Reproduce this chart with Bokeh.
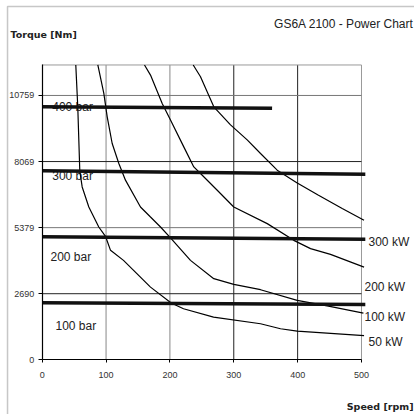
from bokeh.plotting import figure
from bokeh.models import Label, FixedTicker, Range1d, BoxAnnotation
from bokeh.embed import file_html
from bokeh.resources import INLINE

# ---- data ----
x_ticks = [0, 100, 200, 300, 400, 500]
y_ticks = [0, 2690, 5379, 8069, 10759]
x_max = 500
y_max = 12000

rpm_50 = [52.6, 55.7, 58.9, 62.6, 73.0, 88.6, 99.1, 107.0, 127.3, 169.6, 202.0, 221.3, 268.3, 341.9, 373.2, 399.3, 504]
tq_50 = [12000, 10296, 7675, 7035, 6220, 5405, 5026, 4455, 4047, 2959, 2315, 2078, 1736, 1467, 1264, 1166, 985]

rpm_100 = [87.1, 96.5, 101.8, 109.6, 120.0, 130.4, 153.9, 169.6, 185.3, 200.9, 232.2, 268.7, 300.0, 341.9, 399.3, 446.3, 503]
tq_100 = [12000, 10842, 9889, 8804, 7989, 7312, 6220, 5812, 5405, 4965, 4047, 3302, 3069, 2853, 2417, 2193, 1900]

rpm_200 = [160.2, 169.6, 187.9, 200.9, 221.7, 237.4, 247.9, 274.1, 300.0, 352.4, 394.0, 420.2, 451.5, 504]
tq_200 = [12000, 11588, 10435, 9758, 8666, 7851, 7581, 6901, 6220, 5543, 4862, 4524, 4292, 3774]

rpm_300 = [236.5, 247.9, 268.7, 294.9, 321.0, 341.9, 368.0, 398.7, 432.7, 469.8, 504]
tq_300 = [12000, 11519, 10296, 9562, 8951, 8397, 7718, 7206, 6697, 6155, 5677]

bar_names = ["400 bar", "300 bar", "200 bar", "100 bar"]
bar_rpm = [[0, 360], [0, 506], [0, 506], [0, 506]]
bar_tq = [[10296, 10240], [7696, 7553], [5013, 4903], [2323, 2254]]

kw_names = ["300 kW", "200 kW", "100 kW", "50 kW"]

FONT = "Liberation Sans"

# ---- figure: the frame covers the whole canvas, axes sit at the data origin ----
p = figure(width=414, height=414,
           x_range=Range1d(-65.3, 583.0), y_range=Range1d(-2226, 14624),
           output_backend="svg", toolbar_location=None,
           min_border=0, min_border_left=0, min_border_right=0,
           min_border_top=0, min_border_bottom=0,
           background_fill_color="white", border_fill_color="white")

p.xgrid.grid_line_color = None
p.ygrid.grid_line_color = None
p.outline_line_color = None

for ax, ticks in ((p.xaxis, x_ticks), (p.yaxis, y_ticks)):
    ax.ticker = FixedTicker(ticks=ticks)
    ax.fixed_location = 0
    ax.axis_line_color = "black"
    ax.axis_line_width = 1.2
    ax.major_tick_line_color = "black"
    ax.minor_tick_line_color = None
    ax.major_tick_in = 0
    ax.major_label_text_font = FONT
    ax.major_label_text_font_size = "9px"
    ax.major_label_text_color = "#333333"
p.xaxis.bounds = (0, x_max)
p.yaxis.bounds = (0, y_max)
p.xaxis.major_tick_out = 3
p.xaxis.major_label_standoff = 9
p.yaxis.major_tick_out = 4
p.yaxis.major_label_standoff = 4

# grid lines and plot-area border (from the tick values)
x_grid_colors = ["#888888", "#888888", "#222222", "#222222", "#999999"]
p.segment(x0=x_ticks[1:], y0=[0] * 5, x1=x_ticks[1:], y1=[y_max] * 5,
          line_color=x_grid_colors, line_width=1)
y_lines = y_ticks[1:] + [y_max]
y_grid_colors = ["#222222", "#777777", "#222222", "#777777", "#999999"]
p.segment(x0=[0] * 5, y0=y_lines, x1=[x_max] * 5, y1=y_lines,
          line_color=y_grid_colors, line_width=1)

# bar labels (under the thick lines)
bar_label_pos = [(15.7, 10309), (15.7, 7501), (13.0, 4176), (20.8, 1396)]
for name, (lx, ly) in zip(bar_names, bar_label_pos):
    p.add_layout(Label(x=lx, y=ly, text=name, text_font=FONT, text_font_size="12px",
                       text_color="#222222", text_baseline="alphabetic", level="underlay"))

# power curves
for xs, ys in ((rpm_50, tq_50), (rpm_100, tq_100), (rpm_200, tq_200), (rpm_300, tq_300)):
    p.line(xs, ys, line_color="black", line_width=1.2)

# pressure lines
for xs, ys in zip(bar_rpm, bar_tq):
    p.line(xs, ys, line_color="#111111", line_width=3.5)

kw_label_pos = [(511, 4786), (504.7, 2983), (504.7, 1734), (511, 716)]
for name, (lx, ly) in zip(kw_names, kw_label_pos):
    p.add_layout(Label(x=lx, y=ly, text=name, text_font=FONT, text_font_size="12px",
                       text_color="#222222", text_baseline="alphabetic"))

p.add_layout(Label(x=581.4, y=13687, text="GS6A 2100 - Power Chart", text_font=FONT,
                   text_font_size="12px", text_color="#222222", text_align="right",
                   text_baseline="alphabetic"))
p.add_layout(Label(x=-49.6, y=13240, text="Torque [Nm]", text_font="DejaVu Sans",
                   text_font_style="bold", text_font_size="9.5px", text_color="#222222",
                   text_baseline="alphabetic"))
p.add_layout(Label(x=581.4, y=-1901, text="Speed [rpm]", text_font="DejaVu Sans",
                   text_font_style="bold", text_font_size="9.5px", text_color="#222222",
                   text_align="right", text_baseline="alphabetic"))

# outer frame of the sheet (left and top edges visible)
p.add_layout(BoxAnnotation(left=-54.3, top=14380, right=800, bottom=-6000,
                           fill_alpha=0, fill_color=None, line_color="#444444",
                           line_width=1.5))

open("out.html", "w").write(file_html(p, INLINE))
